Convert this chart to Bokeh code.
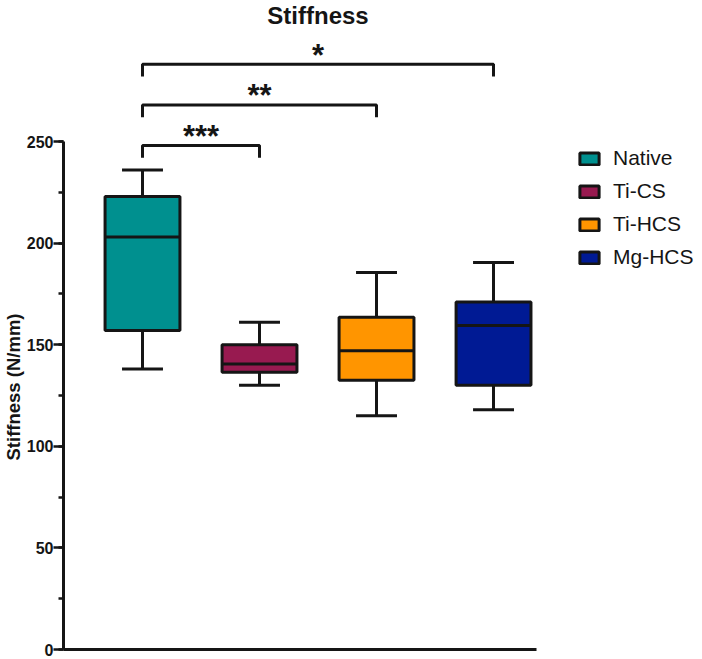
from bokeh.plotting import figure
from bokeh.models import (Range1d, SingleIntervalTicker, FixedTicker, Legend,
                          LegendItem, ColumnDataSource, Title)
from bokeh.core.properties import value
from bokeh.embed import file_html
from bokeh.resources import INLINE

# Stiffness per implant group (N/mm)
groups = ["Native", "Ti-CS", "Ti-HCS", "Mg-HCS"]
colors = ["#00908F", "#981A50", "#FF9500", "#001A94"]
whisker_low = [138, 130, 115, 118]
q1 = [157, 136.5, 132.5, 130]
median = [203, 140.5, 147, 159.5]
q3 = [223, 150, 163.5, 171]
whisker_high = [236, 161, 185.5, 190.5]

# significance brackets: (group a, group b, label, bracket height)
comp_a = [0, 0, 0]
comp_b = [1, 2, 3]
comp_label = ["***", "**", "*"]
comp_y = [248, 268, 288]

FONT = "Liberation Sans"
BOX_W = 0.64
CAP_W = 0.35
DROP = 6
X_MIN, X_MAX = -0.6752, 4.786
X_AXIS_END = 3.3675

xs = list(range(len(groups)))

p = figure(width=702, height=659, output_backend="svg", toolbar_location=None,
           x_range=Range1d(X_MIN, X_MAX), y_range=Range1d(0, 319.4),
           min_border_left=63, min_border_right=0, min_border_top=0,
           min_border_bottom=10)
p.outline_line_color = None
p.grid.visible = False
p.background_fill_color = "white"
p.border_fill_color = "white"

LC = "#151515"

# axes
p.xaxis.ticker = FixedTicker(ticks=[])
p.xaxis.bounds = (X_MIN, X_AXIS_END)
p.xaxis.axis_line_width = 3
p.xaxis.axis_line_color = LC
p.xaxis.major_tick_out = 0
p.xaxis.major_tick_in = 0
p.xaxis.minor_tick_out = 0
p.xaxis.major_label_text_font_size = "0px"

p.yaxis.ticker = SingleIntervalTicker(interval=50, num_minor_ticks=2)
p.yaxis.bounds = (0, 250)
p.yaxis.axis_line_width = 3
p.yaxis.axis_line_color = LC
p.yaxis.major_tick_out = 10
p.yaxis.major_tick_in = 0
p.yaxis.minor_tick_out = 5
p.yaxis.minor_tick_in = 0
p.yaxis.major_tick_line_width = 2.5
p.yaxis.minor_tick_line_width = 2.5
p.yaxis.major_tick_line_color = LC
p.yaxis.minor_tick_line_color = LC
p.yaxis.major_label_text_font = FONT
p.yaxis.major_label_text_font_style = "bold"
p.yaxis.major_label_text_font_size = "16px"
p.yaxis.major_label_text_color = LC
p.yaxis.major_label_standoff = 0

# y-axis title, placed along the drawn part of the axis (0..250)
p.add_layout(Title(text="Stiffness (N/mm)", align="left", offset=189,
                   standoff=0, text_font=FONT, text_font_style="bold",
                   text_font_size="18.5px", text_color=LC), "left")

# whiskers and caps
src = ColumnDataSource(dict(
    x=xs, low=whisker_low, q1=q1, med=median, q3=q3, high=whisker_high,
    bx0=[x - BOX_W / 2 for x in xs], bx1=[x + BOX_W / 2 for x in xs],
    cx0=[x - CAP_W / 2 for x in xs], cx1=[x + CAP_W / 2 for x in xs],
))
p.segment(x0="x", y0="q3", x1="x", y1="high", source=src, line_color=LC, line_width=3)
p.segment(x0="x", y0="low", x1="x", y1="q1", source=src, line_color=LC, line_width=3)
p.segment(x0="cx0", y0="high", x1="cx1", y1="high", source=src, line_color=LC, line_width=3)
p.segment(x0="cx0", y0="low", x1="cx1", y1="low", source=src, line_color=LC, line_width=3)

# boxes (one renderer per group so each gets a legend entry)
items = []
for i, g in enumerate(groups):
    r = p.vbar(x=[xs[i]], bottom=[q1[i]], top=[q3[i]], width=BOX_W,
               fill_color=colors[i], line_color=LC, line_width=3)
    items.append(LegendItem(label=g, renderers=[r]))

# medians
p.segment(x0="bx0", y0="med", x1="bx1", y1="med", source=src, line_color=LC, line_width=3)

# significance brackets
bxs, bys = [], []
for a, b, yb in zip(comp_a, comp_b, comp_y):
    bxs.append([xs[a], xs[a], xs[b], xs[b]])
    bys.append([yb - DROP, yb, yb, yb - DROP])
p.multi_line(xs=bxs, ys=bys, line_color=LC, line_width=3)
p.text(x=[(xs[a] + xs[b]) / 2 for a, b in zip(comp_a, comp_b)],
       y=[yb + 4.5 for yb in comp_y], text=comp_label,
       text_font=value(FONT), text_font_style="bold", text_font_size="31px",
       text_align="center", text_baseline="alphabetic", text_color=LC)

# title
p.text(x=[(xs[0] + xs[-1]) / 2], y=[312], text=["Stiffness"],
       text_font=value(FONT), text_font_style="bold", text_font_size="24px",
       text_align="center", text_baseline="middle", text_color=LC)

legend = Legend(items=items, location=(514, 380), orientation="vertical",
                glyph_width=24, glyph_height=15, label_standoff=12,
                label_height=24, spacing=9, padding=0, margin=0,
                border_line_color=None, background_fill_alpha=0,
                label_text_font=FONT, label_text_font_size="21px",
                label_text_color=LC, label_text_baseline="middle")
p.add_layout(legend)

open("out.html", "w").write(file_html(p, INLINE))
